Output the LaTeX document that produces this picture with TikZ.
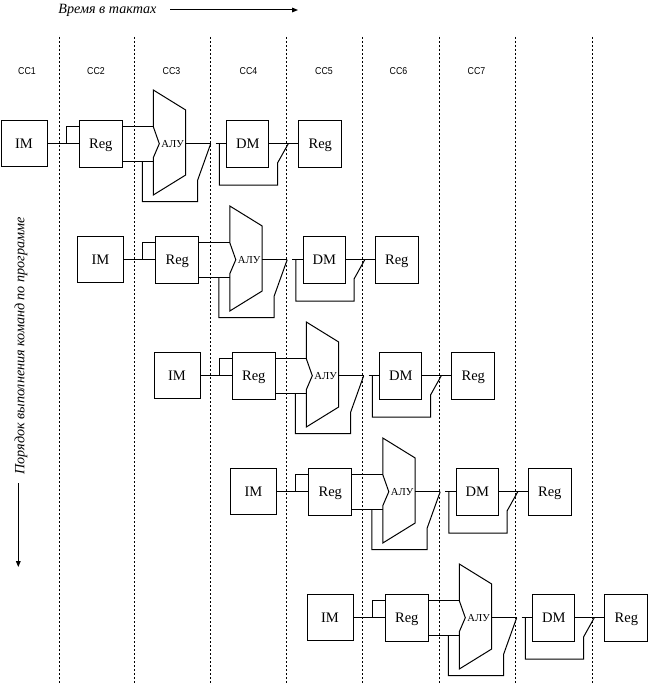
\documentclass[tikz,border=0pt]{standalone}
\usepackage{fontspec}
\setmainfont{Liberation Serif}
\newfontfamily\cclabelfont{Liberation Sans}
\usetikzlibrary{arrows.meta}
\begin{document}
\begin{tikzpicture}[x=0.75pt,y=-0.75pt,
  wire/.style={line width=0.75pt},
  gridline/.style={line width=0.75pt,dash pattern=on 1.5pt off 1.5pt},
  blockbox/.style={draw,line width=0.75pt,inner sep=0pt,
    text height=7.2pt,text depth=0pt,
    font=\fontsize{10.9pt}{12pt}\selectfont},
  imbox/.style={blockbox,minimum width=34.5pt,minimum height=34.5pt},
  regbox/.style={blockbox,minimum width=32.25pt,minimum height=35.5pt},
  dmbox/.style={blockbox,minimum width=31.7pt,minimum height=35.5pt},
  alutext/.style={inner sep=0pt,text height=5.3pt,text depth=0pt,
    font=\fontsize{8pt}{9pt}\selectfont},
  cclabel/.style={inner sep=0pt,font=\cclabelfont\fontsize{7.5pt}{9pt}\selectfont},
  headtext/.style={inner sep=0pt,font=\itshape\fontsize{10.6pt}{12pt}\selectfont},
  arrowline/.style={line width=0.75pt,-{Triangle[length=4.5pt,width=3.5pt]}}
]
\useasboundingbox (0,0) rectangle (647,685);

% clock-cycle boundaries
\foreach \x in {59.5,134.3,210.3,286.7,362.3,439.3,515.7,592.3}
  \draw[gridline] (\x,37) -- (\x,685);

% clock-cycle names
\foreach \x/\n in {27/1,96/2,171.5/3,248.5/4,324/5,398.5/6,476.5/7}
  \node[cclabel] (cc\n) at (\x,71) {\scalebox{0.88}[1]{CC\n}};

% time axis
\node[headtext] (timetitle) at (107.5,10) {Время в тактах};
\coordinate (timestart) at (170,10);
\coordinate (timeend) at (298,10);
\draw[arrowline] (timestart) -- (timeend);

% program order axis
\node[headtext,rotate=90] (ordertitle) at (21,346) {Порядок выполнения команд по программе};
\coordinate (orderstart) at (18.3,483);
\coordinate (orderend) at (18.3,567);
\draw[arrowline] (orderstart) -- (orderend);

% one pipeline per instruction
\foreach \r/\dy in {1/0,2/116,3/232,4/348,5/474}{
\begin{scope}[shift={({(\r-1)*76.5},\dy)}]
  \node[imbox] (im\r) at (24,143.7) {IM};
  \node[regbox] (ra\r) at (100.8,143.7) {Reg};
  \node[dmbox] (dm\r) at (247.8,143.7) {DM};
  \node[regbox] (rb\r) at (320.3,143.7) {Reg};
  % ALU outline
  \draw[wire] (153.3,90) -- (185.7,110) -- (185.7,175) -- (153.3,195)
    -- (153.3,157.7) -- (159.3,143.7) -- (153.3,126.7) -- cycle;
  \node[alutext] (alu\r) at (172.6,143.7) {АЛУ};
  % ports and junctions
  \coordinate (fork\r) at (66,143.7);
  \coordinate (ina\r) at (153.3,126.7);
  \coordinate (inb\r) at (153.3,161);
  \coordinate (byp\r) at (142.3,161);
  \coordinate (aluout\r) at (185.7,143.7);
  \coordinate (swa\r) at (210.7,143.7);
  \coordinate (swb\r) at (197.7,180);
  \coordinate (dmin\r) at (215.7,143.7);
  \coordinate (dmbyp\r) at (219.3,143.7);
  \coordinate (swc\r) at (288.3,143.7);
  \coordinate (swd\r) at (277.7,162.7);
  % fetch to register file
  \draw[wire] (im\r.east) -- (ra\r.west);
  \draw[wire] (fork\r) |- (ra\r.west |- ina\r);
  % register file to ALU
  \draw[wire] (ra\r.east |- ina\r) -- (ina\r);
  \draw[wire] (ra\r.east |- inb\r) -- (inb\r);
  % ALU result and bypass switch
  \draw[wire] (aluout\r) -- (swa\r);
  \draw[wire] (byp\r) -- ++(0,40.7) -| (swb\r) -- (swa\r);
  \draw[wire] (dmin\r) -- (dm\r.west);
  % data memory and write-back switch
  \draw[wire] (dm\r.east) -- (rb\r.west);
  \draw[wire] (dmbyp\r) -- ++(0,41.3) -| (swd\r) -- (swc\r);
\end{scope}}
\end{tikzpicture}
\end{document}
